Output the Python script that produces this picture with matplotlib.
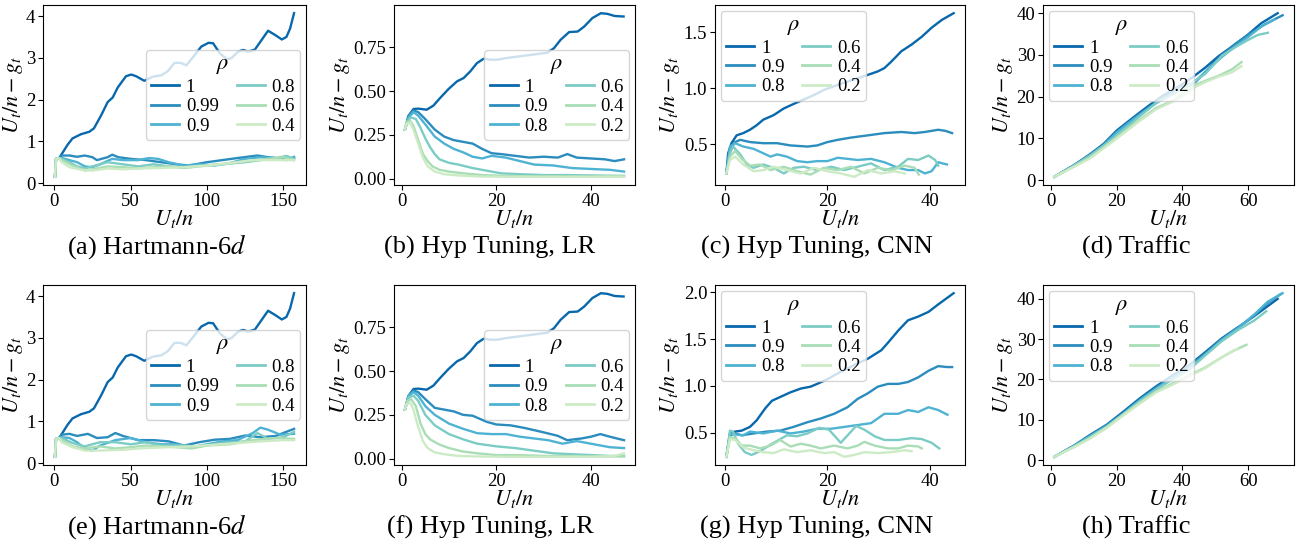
import matplotlib
matplotlib.use("Agg")
import matplotlib.pyplot as plt
from matplotlib.ticker import FormatStrFormatter

plt.rcParams['font.family'] = ['Liberation Serif', 'DejaVu Serif']
plt.rcParams['mathtext.fontset'] = 'stix'

rhos_hart = ['1', '0.99', '0.9', '0.8', '0.6', '0.4']
rhos = ['1', '0.9', '0.8', '0.6', '0.4', '0.2']
colors = ['#0868ac', '#2b8cbe', '#4eb3d3', '#7bccc4', '#a8ddb5', '#ccebc5']

# ---- Hartmann-6d (a) / (e) ----
hart_x1 = [0.5, 1.2, 3.3, 8.8, 12, 17.5, 23, 26, 30.7, 35, 38.3, 41.6, 47, 50.4, 53.6, 59, 61.3,
           64.6, 70, 74.4, 78.8, 83, 86.5, 92, 96.3, 101, 104, 108.4, 113, 116, 120.4, 123.7, 127,
           131.4, 135.8, 140, 144.5, 149, 152, 154.4, 157]
hart_y1 = [0.15, 0.58, 0.6, 0.92, 1.07, 1.17, 1.23, 1.31, 1.62, 1.94, 2.05, 2.29, 2.56, 2.6, 2.56,
           2.45, 2.49, 2.55, 2.58, 2.68, 2.88, 2.88, 2.82, 3.07, 3.27, 3.36, 3.35, 3.11, 2.97, 2.99,
           3.15, 3.19, 3.15, 3.2, 3.43, 3.65, 3.55, 3.44, 3.5, 3.7, 4.07]

hart_a_x = [
    [0.5, 1.2, 3, 5, 10, 15, 20, 25, 28, 35, 38, 42, 50, 60, 70, 80, 88, 100, 110, 120, 133, 140, 150, 157],
    [0.5, 1.2, 3, 5, 10, 15, 20, 25, 30, 38, 45, 55, 62, 68, 75, 85, 95, 105, 115, 125, 135, 145, 152, 157],
    [0.5, 1.2, 3, 5, 10, 15, 20, 25, 35, 45, 55, 65, 75, 85, 95, 110, 125, 135, 145, 152, 157],
    [0.5, 1.2, 3, 5, 12, 20, 25, 35, 45, 55, 65, 75, 85, 95, 110, 125, 140, 150, 157],
    [0.5, 1.2, 3, 5, 10, 18, 25, 35, 45, 55, 70, 85, 100, 115, 130, 145, 157],
]
hart_a_y = [
    [0.15, 0.58, 0.6, 0.66, 0.66, 0.63, 0.66, 0.62, 0.55, 0.62, 0.68, 0.62, 0.58, 0.55, 0.5, 0.45,
     0.42, 0.5, 0.55, 0.6, 0.66, 0.62, 0.58, 0.6],
    [0.15, 0.58, 0.6, 0.6, 0.55, 0.5, 0.4, 0.38, 0.45, 0.58, 0.55, 0.55, 0.6, 0.58, 0.5, 0.42, 0.45,
     0.42, 0.48, 0.58, 0.62, 0.6, 0.55, 0.63],
    [0.15, 0.58, 0.6, 0.58, 0.5, 0.4, 0.35, 0.4, 0.5, 0.45, 0.4, 0.45, 0.4, 0.38, 0.42, 0.45, 0.5,
     0.55, 0.6, 0.65, 0.58],
    [0.15, 0.58, 0.6, 0.55, 0.42, 0.3, 0.33, 0.4, 0.38, 0.35, 0.38, 0.4, 0.36, 0.4, 0.45, 0.52, 0.58,
     0.62, 0.55],
    [0.15, 0.58, 0.6, 0.5, 0.38, 0.32, 0.3, 0.35, 0.33, 0.35, 0.36, 0.38, 0.42, 0.48, 0.55, 0.55, 0.55],
]

hart_e_x = [
    [0.5, 1.2, 3, 5, 10, 15, 22, 28, 35, 40, 45, 55, 65, 75, 85, 95, 105, 115, 125, 135, 145, 157],
    [0.5, 1.2, 3, 5, 10, 15, 20, 25, 30, 40, 50, 60, 70, 80, 90, 100, 110, 120, 130, 135, 140, 148, 157],
    [0.5, 1.2, 3, 5, 12, 20, 30, 40, 50, 60, 70, 85, 95, 110, 125, 133, 140, 150, 157],
    [0.5, 1.2, 3, 5, 12, 20, 30, 40, 50, 60, 70, 80, 90, 100, 115, 130, 145, 157],
    [0.5, 1.2, 3, 5, 12, 20, 30, 45, 60, 75, 90, 105, 120, 135, 150, 157],
]
hart_e_y = [
    [0.15, 0.58, 0.6, 0.68, 0.7, 0.65, 0.7, 0.6, 0.62, 0.72, 0.65, 0.55, 0.55, 0.52, 0.42, 0.5,
     0.56, 0.58, 0.66, 0.62, 0.65, 0.82],
    [0.15, 0.58, 0.6, 0.62, 0.6, 0.5, 0.35, 0.3, 0.42, 0.55, 0.6, 0.5, 0.45, 0.45, 0.38, 0.45, 0.52,
     0.55, 0.72, 0.85, 0.8, 0.68, 0.7],
    [0.15, 0.58, 0.6, 0.6, 0.48, 0.4, 0.5, 0.5, 0.45, 0.5, 0.42, 0.42, 0.4, 0.48, 0.52, 0.72, 0.58,
     0.62, 0.75],
    [0.15, 0.58, 0.6, 0.55, 0.4, 0.35, 0.4, 0.35, 0.38, 0.42, 0.4, 0.38, 0.35, 0.42, 0.45, 0.55,
     0.6, 0.58],
    [0.15, 0.58, 0.6, 0.5, 0.38, 0.3, 0.3, 0.32, 0.36, 0.38, 0.4, 0.44, 0.48, 0.52, 0.55, 0.55],
]

# ---- Hyp Tuning, LR (b) / (f) ----
lr_x1 = [0.7, 1.4, 2.5, 3.5, 5.3, 6.7, 8.1, 9.9, 11.7, 13.1, 14.5, 15.9, 17.3, 18.8, 20.2, 22.3,
         25.1, 28, 30.8, 32.2, 33.6, 35.4, 37.2, 38.6, 40.3, 42.1, 43.5, 45, 46.9]
lr_y1 = [0.28, 0.356, 0.398, 0.4, 0.394, 0.417, 0.46, 0.512, 0.556, 0.575, 0.613, 0.66, 0.685, 0.68,
         0.68, 0.69, 0.7, 0.71, 0.72, 0.746, 0.794, 0.838, 0.841, 0.87, 0.918, 0.946, 0.942, 0.93, 0.927]

lr_b_x = [
    [0.7, 1.5, 2.5, 3.5, 5, 7, 9, 11, 13, 15, 17, 19, 21, 24, 27, 30, 33, 35, 37, 40, 43, 45, 47],
    [0.7, 1.5, 2.5, 3.5, 5, 7, 9, 11, 13, 15, 17, 19, 22, 25, 28, 32, 36, 40, 44, 47],
    [0.7, 1.2, 2, 3, 4, 5, 6, 7, 8, 10, 12, 15, 18, 21, 25, 30, 35, 40, 47],
    [0.7, 1, 1.8, 2.5, 3.5, 4.5, 5.5, 6.5, 8, 10, 13, 17, 22, 30, 40, 47],
    [0.7, 1, 1.8, 2.5, 3.5, 4.5, 5.5, 7, 9, 12, 16, 22, 30, 40, 47],
]
lr_b_y = [
    [0.28, 0.36, 0.39, 0.38, 0.34, 0.28, 0.24, 0.22, 0.21, 0.2, 0.17, 0.145, 0.14, 0.13, 0.12, 0.125,
     0.12, 0.14, 0.12, 0.115, 0.11, 0.1, 0.11],
    [0.28, 0.35, 0.38, 0.36, 0.31, 0.24, 0.2, 0.17, 0.15, 0.125, 0.115, 0.13, 0.12, 0.1, 0.08, 0.075,
     0.06, 0.055, 0.05, 0.04],
    [0.28, 0.33, 0.35, 0.34, 0.29, 0.23, 0.18, 0.14, 0.11, 0.09, 0.08, 0.06, 0.045, 0.03, 0.025, 0.02,
     0.02, 0.018, 0.015],
    [0.28, 0.32, 0.33, 0.3, 0.22, 0.14, 0.1, 0.07, 0.05, 0.04, 0.03, 0.02, 0.015, 0.012, 0.012, 0.015],
    [0.28, 0.31, 0.32, 0.28, 0.2, 0.12, 0.07, 0.04, 0.025, 0.018, 0.012, 0.01, 0.01, 0.01, 0.01],
]

lr_f_x = [
    [0.7, 1.5, 2.5, 3.5, 5, 7, 9, 11, 13, 15, 18, 20, 23, 26, 30, 33, 35, 38, 40, 42, 44, 47],
    [0.7, 1.5, 2.5, 3.5, 5, 7, 10, 13, 16, 19, 22, 25, 28, 31, 34, 37, 40, 44, 47],
    [0.7, 1.5, 2.5, 3.5, 5, 7, 10, 13, 16, 20, 24, 28, 32, 36, 40, 44, 47],
    [0.7, 1.2, 2, 3, 4, 5, 6, 8, 10, 13, 16, 20, 25, 30, 40, 47],
    [0.7, 1, 1.8, 2.5, 3.5, 4.5, 5.5, 7, 9, 12, 16, 22, 30, 40, 45, 47],
]
lr_f_y = [
    [0.28, 0.36, 0.39, 0.38, 0.34, 0.29, 0.28, 0.27, 0.25, 0.245, 0.21, 0.195, 0.19, 0.175, 0.15,
     0.13, 0.105, 0.115, 0.125, 0.14, 0.125, 0.105],
    [0.28, 0.36, 0.38, 0.36, 0.3, 0.25, 0.2, 0.17, 0.145, 0.14, 0.14, 0.125, 0.115, 0.105, 0.085,
     0.1, 0.085, 0.065, 0.06],
    [0.28, 0.35, 0.36, 0.33, 0.25, 0.19, 0.14, 0.11, 0.085, 0.07, 0.06, 0.045, 0.03, 0.025, 0.02,
     0.015, 0.015],
    [0.28, 0.33, 0.34, 0.3, 0.2, 0.14, 0.11, 0.08, 0.06, 0.04, 0.03, 0.02, 0.02, 0.015, 0.012, 0.012],
    [0.28, 0.31, 0.32, 0.28, 0.18, 0.1, 0.06, 0.035, 0.025, 0.015, 0.012, 0.01, 0.01, 0.01, 0.015, 0.03],
]

# ---- Hyp Tuning, CNN (c) ----
cnn_c_x = [
    [0.3, 0.65, 1.3, 2.3, 3.6, 4.9, 6.2, 7.5, 9.5, 11.5, 13.4, 15.4, 17.4, 19.3, 22, 24.6, 27.9,
     29.8, 31.1, 32.5, 34.4, 36.4, 38.4, 40.3, 42.3, 44.6],
    [0.3, 1, 2, 3, 4.9, 7.5, 10.2, 12.8, 16.1, 18, 20, 22, 24.6, 27.9, 31.1, 34.4, 37, 39, 41.6, 43, 44.3],
    [0.3, 1, 2, 3.6, 5.6, 7.5, 8.9, 10.2, 12.1, 14.1, 16.1, 18, 20, 22, 24, 25.9, 28.5, 31.1, 33.8,
     35.7, 37.7, 39, 40.3, 41.6, 43.3],
    [0.3, 1, 1.6, 3, 4.3, 5.6, 7.5, 9.5, 11.5, 13.4, 15.4, 18, 20.7, 23.3, 25.9, 28.5, 31.1, 33.8,
     35.7, 37.7, 39.7, 41, 41.6],
    [0.3, 1, 2, 3.3, 4.9, 6.9, 8.9, 11.5, 14.1, 16.7, 19.3, 22, 24.6, 27.2, 29.8, 32.5, 35.1, 37, 37.8],
    [0.3, 1, 2, 3.6, 5.6, 7.5, 9.5, 12.1, 14.8, 17.4, 20, 22.6, 25.2, 27.9, 30.5, 33.1, 35.1],
]
cnn_c_y = [
    [0.24, 0.42, 0.51, 0.58, 0.6, 0.63, 0.67, 0.72, 0.76, 0.82, 0.86, 0.9, 0.94, 0.985, 1.03, 1.07,
     1.12, 1.15, 1.18, 1.24, 1.33, 1.39, 1.46, 1.54, 1.61, 1.67],
    [0.24, 0.45, 0.52, 0.54, 0.52, 0.51, 0.51, 0.49, 0.48, 0.49, 0.52, 0.54, 0.56, 0.58, 0.6, 0.61,
     0.6, 0.61, 0.63, 0.62, 0.6],
    [0.24, 0.48, 0.51, 0.48, 0.46, 0.42, 0.39, 0.41, 0.39, 0.35, 0.34, 0.35, 0.35, 0.38, 0.37, 0.36,
     0.37, 0.34, 0.29, 0.27, 0.27, 0.24, 0.26, 0.34, 0.32],
    [0.24, 0.42, 0.48, 0.41, 0.32, 0.29, 0.32, 0.29, 0.24, 0.29, 0.3, 0.27, 0.3, 0.27, 0.3, 0.33,
     0.27, 0.3, 0.37, 0.36, 0.4, 0.36, 0.31],
    [0.24, 0.39, 0.44, 0.37, 0.31, 0.32, 0.27, 0.3, 0.26, 0.23, 0.29, 0.27, 0.3, 0.24, 0.29, 0.27,
     0.31, 0.29, 0.23],
    [0.24, 0.36, 0.39, 0.32, 0.26, 0.27, 0.3, 0.27, 0.24, 0.29, 0.26, 0.24, 0.21, 0.27, 0.24, 0.26, 0.24],
]

# ---- Hyp Tuning, CNN (g) ----
cnn_g_x = [
    [0.3, 1, 2, 3.3, 4.9, 6.2, 7.9, 9.2, 10.8, 12.8, 14.8, 16.7, 18, 20, 22.6, 25.2, 27.9, 30.5,
     31.8, 33.8, 35.7, 37.7, 39.7, 41.6, 44.6],
    [0.3, 1, 2, 3.3, 5.6, 8.2, 10.8, 13.4, 16.1, 18.7, 21.3, 23.9, 25.9, 27.9, 29.8, 31.8, 33.8,
     35.7, 37.7, 39.7, 41.6, 43.3, 44.3],
    [0.3, 1, 2, 3.6, 4.9, 7.5, 10.2, 12.8, 15.4, 18, 20.7, 23.3, 25.9, 28.5, 31.1, 33.8, 35.7, 37.7,
     39.7, 41.6, 43.4],
    [0.3, 1, 1.6, 2.6, 3.9, 5.2, 6.9, 8.9, 10.5, 12.1, 14.1, 16.1, 18.4, 20.3, 22.6, 24.6, 25.6,
     27.2, 29.2, 31.1, 33.8, 36.4, 38.4, 40.3, 41.8],
    [0.3, 1, 2, 3.3, 4.9, 6.9, 8.9, 10.8, 12.8, 14.8, 16.7, 18.7, 21.3, 23.9, 25.9, 27.2, 29.2,
     31.8, 33.8, 35.7, 37.7, 38.4],
    [0.3, 1, 2, 3.6, 5.6, 7.5, 9.5, 11.5, 14.1, 16.7, 19.3, 21.3, 23.3, 25.2, 27.2, 29.8, 32.5, 35.1, 36.4],
]
cnn_g_y = [
    [0.24, 0.49, 0.51, 0.52, 0.56, 0.63, 0.76, 0.84, 0.88, 0.93, 0.97, 0.99, 1.02, 1.07, 1.15, 1.22,
     1.29, 1.38, 1.46, 1.59, 1.7, 1.74, 1.79, 1.87, 1.99],
    [0.24, 0.47, 0.49, 0.47, 0.49, 0.51, 0.52, 0.56, 0.61, 0.65, 0.7, 0.77, 0.86, 0.92, 0.99, 1.02,
     1.02, 1.04, 1.09, 1.16, 1.21, 1.2, 1.2],
    [0.24, 0.49, 0.48, 0.47, 0.51, 0.49, 0.52, 0.49, 0.51, 0.54, 0.54, 0.56, 0.58, 0.6, 0.7, 0.7,
     0.74, 0.72, 0.77, 0.74, 0.69],
    [0.24, 0.52, 0.51, 0.38, 0.29, 0.26, 0.3, 0.37, 0.42, 0.47, 0.46, 0.49, 0.55, 0.53, 0.39, 0.51,
     0.57, 0.53, 0.46, 0.42, 0.42, 0.44, 0.43, 0.39, 0.33],
    [0.24, 0.45, 0.44, 0.36, 0.36, 0.33, 0.36, 0.42, 0.35, 0.38, 0.36, 0.33, 0.36, 0.33, 0.36, 0.4,
     0.36, 0.33, 0.33, 0.36, 0.35, 0.33],
    [0.24, 0.43, 0.42, 0.34, 0.31, 0.29, 0.28, 0.32, 0.29, 0.31, 0.28, 0.29, 0.24, 0.26, 0.29, 0.28,
     0.29, 0.31, 0.3],
]

# ---- Traffic (d) ----
tr_d_x = [
    [1, 7, 12, 16, 20, 25, 30, 34, 39, 43, 47, 51, 56, 60, 64, 69],
    [1, 7, 12, 16, 20, 25, 30, 34, 39, 44, 48, 52, 56, 60, 65, 70.5],
    [1, 7, 12, 16, 20, 25, 30, 34, 39, 43, 47, 52, 56, 60, 64, 68],
    [1, 7, 12, 17, 22, 27, 32, 37, 42, 47, 52, 56, 60, 63, 66],
    [1, 7, 12, 17, 22, 27, 32, 37, 40, 43, 47, 51, 55, 58],
    [1, 7, 12, 17, 22, 27, 32, 37, 40, 43, 47, 51, 55, 58],
]
tr_d_y = [
    [0.8, 3.6, 6.3, 8.7, 11.9, 15, 18, 20.2, 22.5, 24.6, 27, 29.7, 32.5, 34.9, 37.6, 40],
    [0.8, 3.6, 6.1, 8.5, 11.6, 14.7, 17.6, 19.8, 22.3, 23.5, 26.8, 30, 32.6, 34.8, 37.3, 39.5],
    [0.8, 3.5, 6, 8.4, 11.4, 14.5, 17.4, 19.5, 21.5, 23, 26, 29.5, 32, 34.3, 36.8, 38.5],
    [0.8, 3.5, 6, 8.8, 12, 15.3, 18.5, 20.5, 22.8, 25.5, 29.8, 31.8, 33.6, 34.8, 35.3],
    [0.8, 3.3, 5.5, 8.5, 11.5, 14.5, 17.3, 19, 20.6, 22.5, 23.8, 25, 26.5, 28.3],
    [0.8, 3.2, 5.3, 8.2, 11.2, 14.2, 17, 18.8, 20, 22, 23.5, 24.8, 25.8, 27.3],
]

# ---- Traffic (h) ----
tr_h_x = [
    [1, 7, 12, 17, 22, 27, 32, 37, 42, 47, 52, 57, 62, 66, 69],
    [1, 7, 12, 17, 22, 27, 32, 37, 42, 47, 52, 57, 62, 66, 70],
    [1, 7, 12, 17, 22, 27, 32, 37, 42, 47, 52, 57, 62, 66, 70.5],
    [1, 7, 12, 17, 22, 27, 32, 37, 42, 47, 52, 57, 62, 65.5],
    [1, 7, 12, 17, 22, 27, 32, 37, 42, 47, 52, 56, 59.5],
    [1, 7, 12, 17, 22, 27, 32, 37, 42, 47, 52, 55.5, 57],
]
tr_h_y = [
    [0.8, 3.6, 6.3, 8.8, 12, 15.3, 18.3, 21, 23.5, 26.8, 30.2, 33, 35.8, 38.2, 40],
    [0.8, 3.5, 6.1, 8.6, 11.7, 15, 18, 20.7, 23.2, 26.5, 30, 32.8, 36, 39, 41.2],
    [0.8, 3.5, 6, 8.5, 11.5, 14.8, 17.7, 20.4, 22.8, 26.2, 29.8, 32.8, 36.2, 39.3, 41.4],
    [0.8, 3.4, 5.8, 8.3, 11.4, 14.6, 17.5, 20, 22.4, 26, 29.5, 32.3, 34.7, 36.9],
    [0.8, 3.3, 5.5, 8.2, 11.3, 14.2, 17, 19, 21, 23, 25.5, 27.3, 28.6],
    [0.8, 3.2, 5.4, 8, 11.1, 14, 16.8, 18.7, 20.8, 22.8, 25.5, 27.2, 27.5],
]

captions = ['(a) Hartmann-6$d$', '(b) Hyp Tuning, LR', '(c) Hyp Tuning, CNN', '(d) Traffic',
            '(e) Hartmann-6$d$', '(f) Hyp Tuning, LR', '(g) Hyp Tuning, CNN', '(h) Traffic']

panels = [
    ([hart_x1] + hart_a_x, [hart_y1] + hart_a_y, rhos_hart, 'center right', [0, 1, 2, 3, 4], [0, 50, 100, 150], None),
    ([lr_x1] + lr_b_x, [lr_y1] + lr_b_y, rhos, 'center right', [0, 0.25, 0.5, 0.75], [0, 20, 40], '%.2f'),
    (cnn_c_x, cnn_c_y, rhos, 'upper left', [0.5, 1.0, 1.5], [0, 20, 40], '%.1f'),
    (tr_d_x, tr_d_y, rhos, 'upper left', [0, 10, 20, 30, 40], [0, 20, 40, 60], None),
    ([hart_x1] + hart_e_x, [hart_y1] + hart_e_y, rhos_hart, 'center right', [0, 1, 2, 3, 4], [0, 50, 100, 150], None),
    ([lr_x1] + lr_f_x, [lr_y1] + lr_f_y, rhos, 'center right', [0, 0.25, 0.5, 0.75], [0, 20, 40], '%.2f'),
    (cnn_g_x, cnn_g_y, rhos, 'upper left', [0.5, 1.0, 1.5, 2.0], [0, 20, 40], '%.1f'),
    (tr_h_x, tr_h_y, rhos, 'upper left', [0, 10, 20, 30, 40], [0, 20, 40, 60], None),
]

W, H = 1304, 549
fig = plt.figure(figsize=(W / 100, H / 100), dpi=100)

# axes boxes in pixels: (left, right), (top, bottom)
cols_px = [(43, 306), (394, 635), (715, 965), (1043, 1294)]
rows_px = [(5, 185), (285, 465)]
cap_x = [157, 490, 817, 1136]
cap_y = [247, 527]

for i, (xs, ys, labels, loc, yt, xt, fmt) in enumerate(panels):
    r, c = divmod(i, 4)
    l, rr = cols_px[c]
    t, b = rows_px[r]
    ax = fig.add_axes([l / W, (H - b) / H, (rr - l) / W, (b - t) / H])
    for x, y, lab, col in zip(xs, ys, labels, colors):
        ax.plot(x, y, color=col, lw=1.7, label=lab)
    ax.set_yticks(yt)
    ax.set_xticks(xt)
    if fmt:
        ax.yaxis.set_major_formatter(FormatStrFormatter(fmt))
    ax.tick_params(labelsize=13.5, pad=2)
    ax.set_xlabel('$U_t/n$', fontsize=16, labelpad=-1)
    ax.set_ylabel('$U_t/n - g_t$', fontsize=16, labelpad=1)
    leg = ax.legend(title=r'$\rho$', ncol=2, loc=loc, fontsize=13.5, title_fontsize=16,
                    labelspacing=0.12, handlelength=1.5, handletextpad=0.35, columnspacing=0.95,
                    borderaxespad=0.3, borderpad=0.3)
    for h in leg.get_lines():
        h.set_linewidth(2)
    fig.text(cap_x[c] / W, 1 - cap_y[r] / H, captions[i], ha='center', va='center', fontsize=19)

fig.savefig('out.png', dpi=100)
